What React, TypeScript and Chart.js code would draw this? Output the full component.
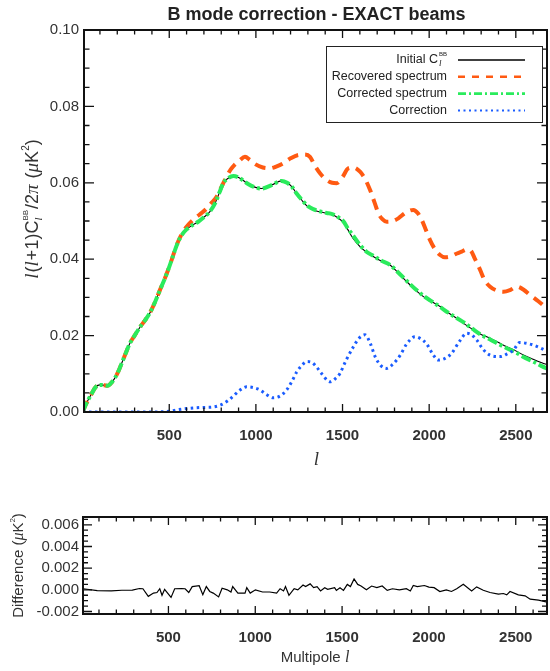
import React, { useEffect, useRef } from "react";
import { Chart, registerables } from "chart.js";
Chart.register(...registerables);

// ---------------- data ----------------
const initialEll = [2, 13, 30, 52, 75, 100, 125, 145, 165, 185, 205, 225, 250, 273, 300, 331, 360, 389, 420, 446, 475, 504, 530, 552, 575, 600, 630, 667, 700, 730, 764, 790, 812, 840, 870, 900, 927, 955, 985, 1033, 1091, 1149, 1180, 1207, 1235, 1264, 1300, 1331, 1370, 1409, 1440, 1475, 1505, 1530, 1560, 1601, 1640, 1678, 1720, 1774, 1820, 1871, 1920, 1967, 2010, 2063, 2110, 2159, 2205, 2255, 2300, 2352, 2400, 2448, 2500, 2544, 2600, 2650, 2688];
const initialVal = [0.0002, 0.0014, 0.003, 0.0048, 0.0065, 0.0071, 0.007, 0.0069, 0.0076, 0.0088, 0.0105, 0.0127, 0.0155, 0.018, 0.02, 0.0222, 0.024, 0.026, 0.029, 0.0319, 0.035, 0.0385, 0.042, 0.0446, 0.0465, 0.0478, 0.0488, 0.0498, 0.051, 0.0522, 0.0546, 0.0575, 0.0599, 0.0612, 0.0618, 0.0614, 0.0606, 0.0597, 0.059, 0.0585, 0.0594, 0.0605, 0.06, 0.059, 0.0572, 0.0555, 0.0537, 0.0529, 0.0524, 0.052, 0.0517, 0.0508, 0.0496, 0.0478, 0.0455, 0.0433, 0.0418, 0.0407, 0.0396, 0.0385, 0.0365, 0.0341, 0.032, 0.0302, 0.029, 0.0276, 0.026, 0.0245, 0.023, 0.0215, 0.0203, 0.0193, 0.0182, 0.0171, 0.016, 0.0149, 0.0138, 0.0129, 0.0123];

const correctedEll = initialEll;
const correctedVal = [0.0002, 0.0014, 0.003, 0.0048, 0.0065, 0.0071, 0.007, 0.0069, 0.0076, 0.0088, 0.0105, 0.0127, 0.0155, 0.018, 0.02, 0.0222, 0.024, 0.026, 0.029, 0.0319, 0.035, 0.0385, 0.042, 0.0446, 0.0465, 0.0478, 0.0488, 0.0498, 0.051, 0.0522, 0.0546, 0.0575, 0.0599, 0.0612, 0.0618, 0.0614, 0.0606, 0.0597, 0.059, 0.0585, 0.0594, 0.0605, 0.06, 0.059, 0.0572, 0.0556, 0.0539, 0.0531, 0.0525, 0.0521, 0.0518, 0.051, 0.0499, 0.0481, 0.0463, 0.0437, 0.0419, 0.0409, 0.0397, 0.0385, 0.0366, 0.0343, 0.0322, 0.0304, 0.0291, 0.0275, 0.026, 0.0246, 0.0233, 0.0216, 0.0202, 0.019, 0.0178, 0.0167, 0.0156, 0.0144, 0.0132, 0.012, 0.0112];

const recoveredEll = [2, 13, 30, 52, 75, 100, 125, 145, 165, 185, 205, 225, 250, 273, 300, 331, 360, 389, 420, 446, 475, 504, 530, 552, 575, 600, 648, 690, 716, 745, 774, 800, 830, 855, 877, 905, 937, 965, 995, 1040, 1081, 1120, 1158, 1200, 1245, 1280, 1312, 1340, 1370, 1409, 1440, 1466, 1500, 1533, 1565, 1601, 1630, 1659, 1685, 1707, 1730, 1755, 1790, 1822, 1865, 1909, 1935, 1957, 1980, 2005, 2035, 2063, 2090, 2121, 2160, 2188, 2215, 2236, 2265, 2294, 2320, 2352, 2390, 2429, 2470, 2506, 2545, 2583, 2630, 2679];
const recoveredVal = [0.0002, 0.0014, 0.003, 0.0048, 0.0065, 0.0071, 0.007, 0.0069, 0.0076, 0.0088, 0.0105, 0.0127, 0.0155, 0.018, 0.02, 0.0222, 0.024, 0.026, 0.029, 0.0319, 0.035, 0.0385, 0.042, 0.0447, 0.0468, 0.0485, 0.0507, 0.0522, 0.0533, 0.0548, 0.0564, 0.0588, 0.0616, 0.0635, 0.0647, 0.0658, 0.0668, 0.066, 0.0649, 0.064, 0.0638, 0.0643, 0.0651, 0.0664, 0.0673, 0.0674, 0.0668, 0.0645, 0.0625, 0.0607, 0.06, 0.0599, 0.0615, 0.0638, 0.064, 0.0629, 0.061, 0.0581, 0.0548, 0.052, 0.0505, 0.0498, 0.05, 0.0507, 0.0522, 0.0529, 0.052, 0.0503, 0.0478, 0.045, 0.0425, 0.0411, 0.0405, 0.0407, 0.0415, 0.042, 0.0425, 0.0424, 0.04, 0.0372, 0.0345, 0.0328, 0.0318, 0.0315, 0.032, 0.0328, 0.032, 0.0306, 0.029, 0.0271];

const correctionEll = [2, 100, 200, 300, 400, 500, 550, 600, 650, 700, 750, 800, 840, 870, 910, 947, 985, 1023, 1060, 1100, 1140, 1178, 1210, 1236, 1265, 1293, 1322, 1350, 1380, 1428, 1460, 1485, 1520, 1562, 1595, 1630, 1660, 1688, 1720, 1755, 1790, 1832, 1870, 1918, 1950, 1986, 2020, 2053, 2090, 2130, 2175, 2217, 2245, 2275, 2305, 2333, 2370, 2409, 2450, 2486, 2523, 2560, 2602, 2640, 2688];
const correctionVal = [0, 0, 0, 0, 0, 0.0002, 0.0006, 0.0009, 0.0011, 0.0012, 0.0013, 0.0019, 0.003, 0.0042, 0.0058, 0.0066, 0.0064, 0.0058, 0.0046, 0.0037, 0.0042, 0.0058, 0.0082, 0.0105, 0.0122, 0.0132, 0.013, 0.0118, 0.01, 0.0079, 0.0088, 0.0101, 0.0135, 0.017, 0.0193, 0.0202, 0.018, 0.0145, 0.0122, 0.0114, 0.0125, 0.0148, 0.0178, 0.0197, 0.0192, 0.0178, 0.0152, 0.0136, 0.014, 0.0154, 0.0185, 0.0206, 0.0202, 0.0188, 0.0168, 0.0154, 0.0146, 0.0145, 0.0152, 0.0162, 0.0182, 0.018, 0.0175, 0.0168, 0.0158];

const diffEll = [9, 90, 171, 232, 292, 333, 353, 384, 414, 434, 450, 463, 478, 500, 515, 536, 576, 596, 617, 637, 677, 698, 718, 738, 758, 789, 809, 839, 860, 870, 900, 941, 951, 971, 1001, 1042, 1083, 1123, 1143, 1163, 1174, 1194, 1224, 1245, 1275, 1290, 1316, 1336, 1356, 1376, 1400, 1417, 1457, 1467, 1488, 1508, 1530, 1548, 1569, 1590, 1609, 1640, 1670, 1700, 1731, 1760, 1790, 1830, 1870, 1893, 1910, 1933, 1974, 2000, 2030, 2063, 2100, 2130, 2160, 2198, 2246, 2275, 2313, 2352, 2400, 2429, 2448, 2467, 2515, 2554, 2583, 2631, 2688];
const diffVal = [0.0001, -0.00007, -0.0001, -0.00004, -0.00002, 0.00012, 0.0001, -0.0006, -0.0003, -0.00025, 0.0001, -0.0005, 0.00005, -0.0004, -0.0007, 0.0001, 0.00012, 0.0001, -0.00025, 0.0003, 0.00038, -0.00045, 0.0003, -0.00015, -0.0003, -0.00065, 0.00015, 0, -0.0002, 0.0003, -0.0003, -0.0003, 0.0002, -0.0003, 0, -0.0002, -0.0002, -0.0003, 0.0001, -0.0001, 0.0003, -0.0005, 0.0001, 0, 0.00045, 0.0003, 0.00055, 0.0002, 0.0003, -0.0001, 0.0002, 0.00005, 0.0002, -0.00005, 0.0002, -0.00005, 0.0005, 0.0003, 0.001, 0.0005, 0.00035, 0, 0.00035, 0.0002, 0.00035, -0.00005, 0.0001, 0, 0.0001, -0.0001, 0.0004, 0.0003, 0.0004, 0.00025, 0.0002, -0.00016, 0, -0.00015, 0.0001, 0.00051, -0.0001, 0.00027, -0.00004, -0.00025, -0.0004, -0.00034, -0.00046, -0.00016, -0.00046, -0.00055, -0.00086, -0.00095, -0.00116];

const xTicks = [500, 1000, 1500, 2000, 2500];
const topYTicks = [0, 0.02, 0.04, 0.06, 0.08, 0.1];
const bottomYTicks = [-0.002, 0, 0.002, 0.004, 0.006];
const legendLabels = ["Initial C", "Recovered spectrum", "Corrected spectrum", "Correction"];
const titleText = "B mode correction - EXACT beams";

// ---------------- styling ----------------
const SANS = '"Liberation Sans", Arial, Helvetica, sans-serif';
const SERIF = '"Liberation Serif", "DejaVu Serif", serif';
const TXT = "#333333";
const X_MIN = 8;
const X_MAX = 2680;
const COL_INIT = "#000000";
const COL_REC = "#ff5a12";
const COL_COR = "#2aeb5c";
const COL_CORR = "#1a5cff";

type Pt = { x: number; y: number };
const toPoints = (xs: number[], ys: number[]): Pt[] => xs.map((x, i) => ({ x, y: ys[i] }));

type Part = any;

function partWidth(ctx: CanvasRenderingContext2D, p: any): number {
  if (p.sub) {
    ctx.font = p.sub.f;
    const a = ctx.measureText(p.sub.t).width;
    ctx.font = p.sup.f;
    const b = ctx.measureText(p.sup.t).width;
    return Math.max(a, b) + 1;
  }
  ctx.font = p.f;
  return ctx.measureText(p.t).width + (p.sp || 0);
}
function partsWidth(ctx: CanvasRenderingContext2D, parts: Part[]) {
  return parts.reduce((s: number, p: any) => s + partWidth(ctx, p), 0);
}
function drawParts(ctx: CanvasRenderingContext2D, parts: Part[], x: number, y: number) {
  let cx = x;
  ctx.textAlign = "left";
  ctx.textBaseline = "alphabetic";
  for (const p of parts as any[]) {
    if (p.sub) {
      ctx.font = p.sub.f;
      ctx.fillText(p.sub.t, cx, y + p.sub.dy);
      ctx.font = p.sup.f;
      ctx.fillText(p.sup.t, cx, y + p.sup.dy);
    } else {
      ctx.font = p.f;
      ctx.fillText(p.t, cx, y + (p.dy || 0));
    }
    cx += partWidth(ctx, p);
  }
}

type TickCfg = {
  yMajor: number[];
  yMinorStep: number;
  xMinorStep: number;
  xMajLen: number;
  xMinLen: number;
  yMajLen: number;
  yMinLen: number;
};

function drawFrameTicks(chart: any, cfg: TickCfg) {
  const { ctx, chartArea: a, scales } = chart;
  const xs = scales.x;
  const ys = scales.y;
  ctx.save();
  ctx.strokeStyle = "#111";
  ctx.lineWidth = 1.3;
  ctx.beginPath();
  const isMaj = (v: number, arr: number[], step: number) => arr.some((m) => Math.abs(m - v) < step * 1e-3);
  for (let i = Math.ceil(X_MIN / cfg.xMinorStep); i * cfg.xMinorStep <= X_MAX; i++) {
    const v = i * cfg.xMinorStep;
    const px = xs.getPixelForValue(v);
    const len = isMaj(v, xTicks, cfg.xMinorStep) ? cfg.xMajLen : cfg.xMinLen;
    ctx.moveTo(px, a.bottom);
    ctx.lineTo(px, a.bottom - len);
    ctx.moveTo(px, a.top);
    ctx.lineTo(px, a.top + len);
  }
  const yMin = ys.min;
  const yMax = ys.max;
  for (let i = Math.ceil(yMin / cfg.yMinorStep - 1e-6); i * cfg.yMinorStep <= yMax + 1e-9; i++) {
    const v = i * cfg.yMinorStep;
    const py = ys.getPixelForValue(v);
    const len = isMaj(v, cfg.yMajor, cfg.yMinorStep) ? cfg.yMajLen : cfg.yMinLen;
    ctx.moveTo(a.left, py);
    ctx.lineTo(a.left + len, py);
    ctx.moveTo(a.right, py);
    ctx.lineTo(a.right - len, py);
  }
  ctx.stroke();
  ctx.lineWidth = 2;
  ctx.strokeRect(a.left, a.top, a.right - a.left, a.bottom - a.top);
  ctx.restore();
}

function xScaleOpts(height: number) {
  return {
    type: "linear" as const,
    min: X_MIN,
    max: X_MAX,
    grid: { display: false, drawTicks: false },
    border: { display: false },
    afterBuildTicks: (s: any) => {
      s.ticks = xTicks.map((v) => ({ value: v }));
    },
    afterFit: (s: any) => {
      s.height = height;
    },
    ticks: {
      autoSkip: false,
      maxRotation: 0,
      padding: 15,
      color: TXT,
      font: { family: SANS, size: 15, weight: "bold" as const },
      callback: (v: any) => String(v),
    },
  };
}

export default function App() {
  const topRef = useRef<HTMLCanvasElement>(null);
  const botRef = useRef<HTMLCanvasElement>(null);

  useEffect(() => {
    const topPlugin = {
      id: "topDecor",
      afterDatasetsDraw(chart: any) {
        drawFrameTicks(chart, {
          yMajor: topYTicks,
          yMinorStep: 0.005,
          xMinorStep: 100,
          xMajLen: 8,
          xMinLen: 4.5,
          yMajLen: 10,
          yMinLen: 5.5,
        });
      },
      afterDraw(chart: any) {
        const ctx: CanvasRenderingContext2D = chart.ctx;
        const a = chart.chartArea;
        ctx.save();
        ctx.fillStyle = "#222";
        // title
        ctx.font = `bold 18px ${SANS}`;
        ctx.textAlign = "center";
        ctx.textBaseline = "middle";
        ctx.fillText(titleText, (a.left + a.right) / 2 + 1, 15);
        // x title
        ctx.fillStyle = TXT;
        ctx.font = `italic 19px ${SERIF}`;
        ctx.textBaseline = "alphabetic";
        ctx.fillText("l", (a.left + a.right) / 2 + 1, 465);
        // y title
        const F = 19;
        const parts: Part[] = [
          { t: "l", f: `italic ${F}px ${SERIF}`, sp: 1 },
          { t: "(", f: `${F - 1}px ${SANS}` },
          { t: "l", f: `italic ${F}px ${SERIF}`, sp: 1 },
          { t: "+1)", f: `${F - 1}px ${SANS}` },
          { t: "C", f: `${F - 1}px ${SANS}` },
          { sub: { t: "l", f: `italic 11px ${SERIF}`, dy: 4 }, sup: { t: "BB", f: `8px ${SANS}`, dy: -10 } },
          { t: "/2", f: `${F - 1}px ${SANS}` },
          { t: "\u03c0", f: `italic ${F}px ${SERIF}`, sp: 1 },
          { t: " (", f: `${F - 1}px ${SANS}` },
          { t: "\u03bc", f: `italic ${F}px ${SERIF}` },
          { t: "K", f: `${F - 1}px ${SANS}` },
          { t: "2", f: `10px ${SANS}`, dy: -9 },
          { t: ")", f: `${F - 1}px ${SANS}` },
        ];
        ctx.save();
        ctx.translate(38, 209);
        ctx.rotate(-Math.PI / 2);
        const w = partsWidth(ctx, parts);
        drawParts(ctx, parts, -w / 2, 0);
        ctx.restore();

        // legend
        const bx = 326, by = 46, bw = 216, bh = 76;
        ctx.fillStyle = "#fff";
        ctx.fillRect(bx, by, bw, bh);
        ctx.strokeStyle = "#222";
        ctx.lineWidth = 1;
        ctx.strokeRect(bx + 0.5, by + 0.5, bw, bh);
        const rows = [60, 76.8, 93.6, 110.5];
        const styles = [
          { c: COL_INIT, w: 1.6, d: [] as number[] },
          { c: COL_REC, w: 2.6, d: [7, 7] },
          { c: COL_COR, w: 2.6, d: [8, 3, 2, 3] },
          { c: COL_CORR, w: 2.2, d: [2, 3.5] },
        ];
        const textRight = 447;
        ctx.fillStyle = "#222";
        ctx.textBaseline = "middle";
        ctx.textAlign = "right";
        ctx.font = `12.5px ${SANS}`;
        for (let i = 0; i < legendLabels.length; i++) {
          const y = rows[i];
          if (i === 0) {
            const blockW = 9;
            ctx.font = `12.5px ${SANS}`;
            ctx.textAlign = "right";
            ctx.fillText(legendLabels[i], textRight - blockW, y);
            ctx.textAlign = "left";
            ctx.font = `italic 9px ${SERIF}`;
            ctx.fillText("l", textRight - blockW + 1, y + 4);
            ctx.font = `6px ${SANS}`;
            ctx.fillText("BB", textRight - blockW + 1, y - 6);
            ctx.textAlign = "right";
          } else {
            ctx.font = `12.5px ${SANS}`;
            ctx.fillText(legendLabels[i], textRight, y);
          }
          const s = styles[i];
          ctx.save();
          ctx.strokeStyle = s.c;
          ctx.lineWidth = s.w;
          ctx.setLineDash(s.d);
          ctx.beginPath();
          ctx.moveTo(458, y);
          ctx.lineTo(525, y);
          ctx.stroke();
          ctx.restore();
        }
        ctx.restore();
      },
    };

    const c1 = new Chart(topRef.current as HTMLCanvasElement, {
      type: "line",
      data: {
        datasets: [
          {
            label: "Correction",
            data: toPoints(correctionEll, correctionVal),
            borderColor: COL_CORR,
            borderWidth: 3,
            borderDash: [2.5, 3.5],
            pointRadius: 0,
            cubicInterpolationMode: "monotone",
            order: 0,
          },
          {
            label: "Corrected spectrum",
            data: toPoints(correctedEll, correctedVal),
            borderColor: COL_COR,
            borderWidth: 4,
            borderDash: [10, 3, 3, 3],
            pointRadius: 0,
            cubicInterpolationMode: "monotone",
            order: 1,
          },
          {
            label: "Recovered spectrum",
            data: toPoints(recoveredEll, recoveredVal),
            borderColor: COL_REC,
            borderWidth: 4,
            borderDash: [11, 7],
            pointRadius: 0,
            cubicInterpolationMode: "monotone",
            order: 2,
          },
          {
            label: "Initial",
            data: toPoints(initialEll, initialVal),
            borderColor: COL_INIT,
            borderWidth: 1.1,
            pointRadius: 0,
            cubicInterpolationMode: "monotone",
            order: 3,
          },
        ],
      },
      options: {
        animation: false,
        responsive: false,
        layout: { padding: { top: 30, right: 3, left: 0, bottom: 0 } },
        plugins: { legend: { display: false }, tooltip: { enabled: false } },
        scales: {
          x: xScaleOpts(68),
          y: {
            type: "linear",
            min: 0,
            max: 0.1,
            grid: { display: false, drawTicks: false },
            border: { display: false },
            afterBuildTicks: (s: any) => {
              s.ticks = topYTicks.map((v) => ({ value: v }));
            },
            afterFit: (s: any) => {
              s.width = 84;
            },
            ticks: {
              padding: 5,
              color: TXT,
              font: { family: SANS, size: 15 },
              callback: (v: any) => Number(v).toFixed(2),
            },
          },
        },
      },
      plugins: [topPlugin],
    } as any);

    const botPlugin = {
      id: "botDecor",
      afterDatasetsDraw(chart: any) {
        drawFrameTicks(chart, {
          yMajor: bottomYTicks,
          yMinorStep: 0.0005,
          xMinorStep: 100,
          xMajLen: 8,
          xMinLen: 4.5,
          yMajLen: 9,
          yMinLen: 5,
        });
      },
      afterDraw(chart: any) {
        const ctx: CanvasRenderingContext2D = chart.ctx;
        const a = chart.chartArea;
        ctx.save();
        ctx.fillStyle = TXT;
        const xt: Part[] = [
          { t: "Multipole ", f: `15px ${SANS}` },
          { t: "l", f: `italic 16px ${SERIF}` },
        ];
        const w = partsWidth(ctx, xt);
        drawParts(ctx, xt, (a.left + a.right) / 2 - w / 2, 182);
        const yt: Part[] = [
          { t: "Difference (", f: `15px ${SANS}` },
          { t: "\u03bc", f: `italic 16px ${SERIF}` },
          { t: "K", f: `15px ${SANS}` },
          { t: "2", f: `8px ${SANS}`, dy: -8 },
          { t: ")", f: `15px ${SANS}` },
        ];
        ctx.translate(23, (a.top + a.bottom) / 2);
        ctx.rotate(-Math.PI / 2);
        const w2 = partsWidth(ctx, yt);
        drawParts(ctx, yt, -w2 / 2, 0);
        ctx.restore();
      },
    };

    const c2 = new Chart(botRef.current as HTMLCanvasElement, {
      type: "line",
      data: {
        datasets: [
          {
            label: "Difference",
            data: toPoints(diffEll, diffVal),
            borderColor: "#000",
            borderWidth: 1.2,
            pointRadius: 0,
            tension: 0,
          },
        ],
      },
      options: {
        animation: false,
        responsive: false,
        layout: { padding: { top: 37, right: 3, left: 0, bottom: 0 } },
        plugins: { legend: { display: false }, tooltip: { enabled: false } },
        scales: {
          x: xScaleOpts(57),
          y: {
            type: "linear",
            min: -0.00223,
            max: 0.00672,
            grid: { display: false, drawTicks: false },
            border: { display: false },
            afterBuildTicks: (s: any) => {
              s.ticks = bottomYTicks.map((v) => ({ value: v }));
            },
            afterFit: (s: any) => {
              s.width = 83;
            },
            ticks: {
              padding: 4,
              color: TXT,
              font: { family: SANS, size: 15 },
              callback: (v: any) => Number(v).toFixed(3),
            },
          },
        },
      },
      plugins: [botPlugin],
    } as any);

    return () => {
      c1.destroy();
      c2.destroy();
    };
  }, []);

  return (
    <div style={{ position: "absolute", left: 0, top: 0, width: 550, height: 671, background: "#fff" }}>
      <canvas ref={topRef} width={550} height={480} style={{ position: "absolute", left: 0, top: 0, width: 550, height: 480 }} />
      <canvas ref={botRef} width={550} height={191} style={{ position: "absolute", left: 0, top: 480, width: 550, height: 191 }} />
    </div>
  );
}
